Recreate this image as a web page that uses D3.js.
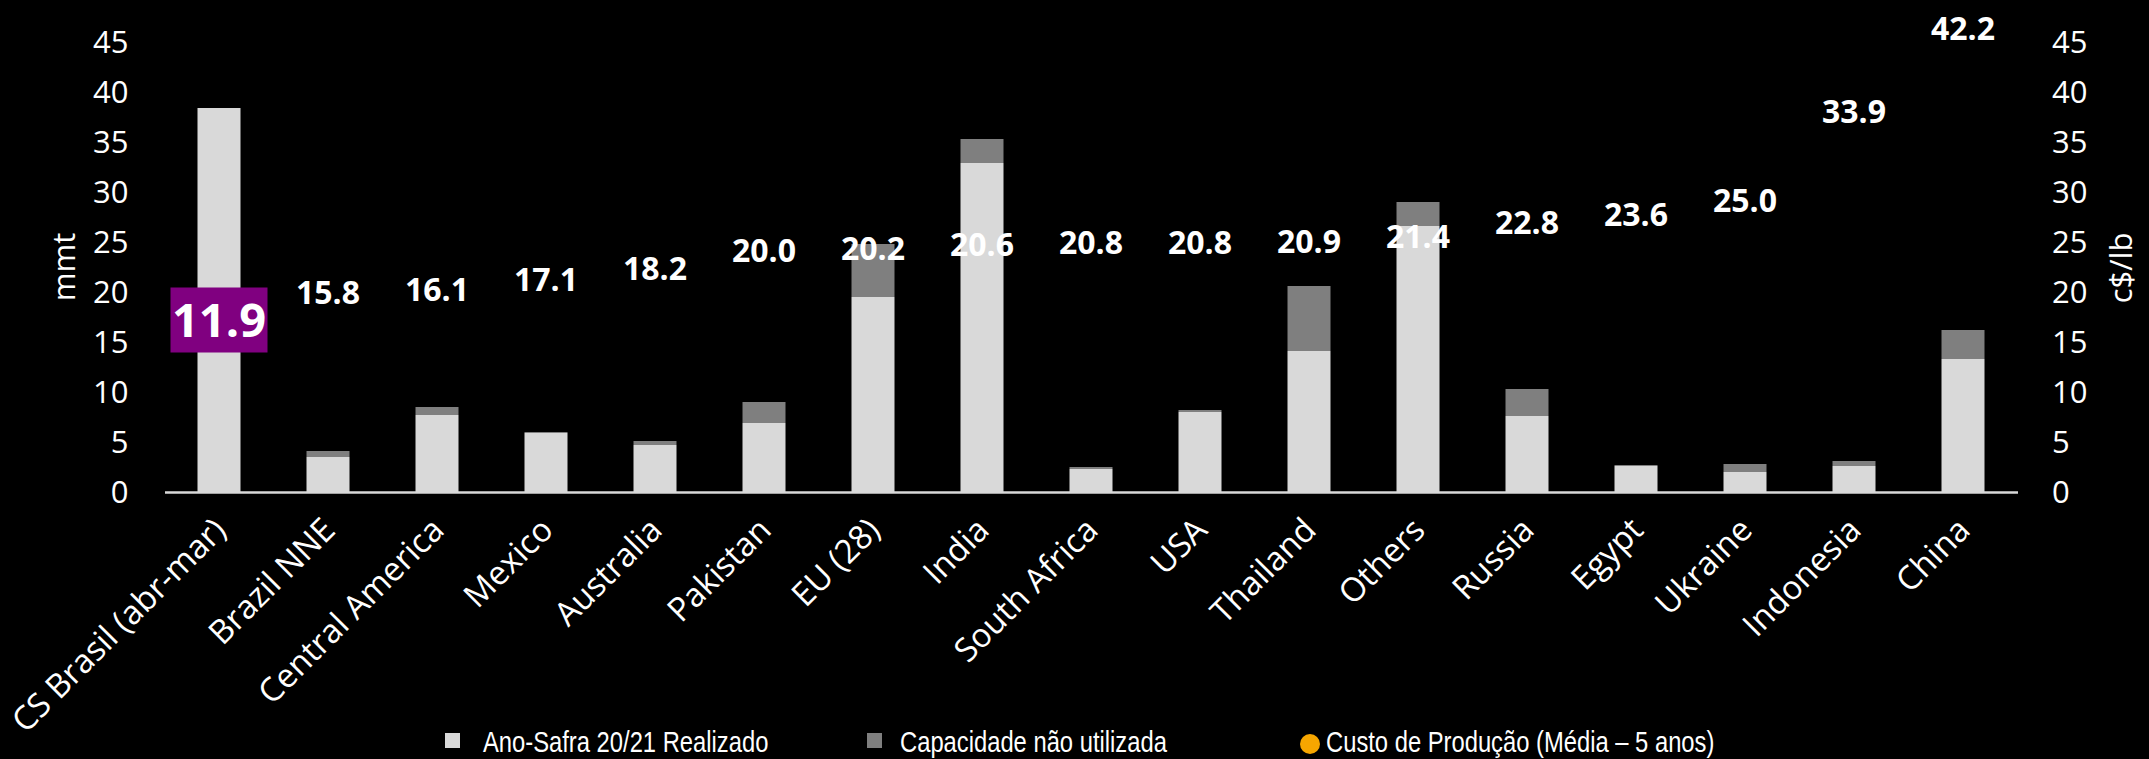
<!DOCTYPE html>
<html>
<head>
<meta charset="utf-8">
<script src="https://cdn.jsdelivr.net/npm/d3@7"></script>
<style>
  html, body { margin: 0; padding: 0; background: #000; }
  svg { display: block; }
</style>
</head>
<body>
<svg id="chart" width="2149" height="759"></svg>
<script>
const categories = ["CS Brasil (abr-mar)", "Brazil NNE", "Central America", "Mexico", "Australia", "Pakistan", "EU (28)", "India", "South Africa", "USA", "Thailand", "Others", "Russia", "Egypt", "Ukraine", "Indonesia", "China"];
const realizado = [38.5, 3.6, 7.8, 6.0, 4.8, 7.0, 19.6, 33.0, 2.4, 8.1, 14.2, 26.7, 7.7, 2.7, 2.1, 2.7, 13.4];
const capacidade = [0.0, 0.6, 0.8, 0.1, 0.4, 2.1, 5.3, 2.4, 0.2, 0.2, 6.5, 2.4, 2.7, 0.1, 0.8, 0.5, 2.9];
const custo = [11.9, 15.8, 16.1, 17.1, 18.2, 20.0, 20.2, 20.6, 20.8, 20.8, 20.9, 21.4, 22.8, 23.6, 25.0, 33.9, 42.2];
const yTicks = [0, 5, 10, 15, 20, 25, 30, 35, 40, 45];
const legendLabels = ["Ano-Safra 20/21 Realizado", "Capacidade não utilizada", "Custo de Produção (Média – 5 anos)"];
const leftTitle = "mmt";
const rightTitle = "c$/lb";

const svg = d3.select("#chart");
svg.append("rect").attr("width", 2149).attr("height", 759).attr("fill", "#000");

const FONT = "'Open Sans', 'Noto Sans', sans-serif";
const LIGHT = "#d9d9d9", DARK = "#7f7f7f", PURPLE = "#800080", ORANGE = "#f7a600";

const x = d3.scaleBand().domain(categories).range([164.5, 2017.5]).paddingInner(0.6055).paddingOuter(0.30275);
const y = d3.scaleLinear().domain([0, 45]).range([493, 43]);
const yR = d3.scaleLinear().domain([0, 45]).range([493, 43]);

// Left axis
const gL = svg.append("g").attr("transform", "translate(164.5,0)")
  .call(d3.axisLeft(y).tickValues(yTicks).tickSize(0).tickPadding(36));
gL.select(".domain").remove();
gL.selectAll("text").attr("fill", "#fff").style("font-family", FONT).style("font-size", "31px");

// Right axis
const gR = svg.append("g").attr("transform", "translate(2017.5,0)")
  .call(d3.axisRight(yR).tickValues(yTicks).tickSize(0).tickPadding(34.5));
gR.select(".domain").remove();
gR.selectAll("text").attr("fill", "#fff").style("font-family", FONT).style("font-size", "31px");

// Axis titles
svg.append("text").text(leftTitle)
  .attr("transform", "translate(63,267) rotate(-90)")
  .attr("text-anchor", "middle").attr("dominant-baseline", "central")
  .attr("fill", "#fff").style("font-family", FONT).style("font-size", "31px");
svg.append("text").text(rightTitle)
  .attr("transform", "translate(2120,268) rotate(-90)")
  .attr("text-anchor", "middle").attr("dominant-baseline", "central")
  .attr("fill", "#fff").style("font-family", FONT).style("font-size", "31px");

// Bars
const bw = x.bandwidth();
const bars = svg.append("g");
categories.forEach((c, i) => {
  const r = realizado[i], k = capacidade[i];
  bars.append("rect").attr("x", x(c)).attr("width", bw)
    .attr("y", y(r)).attr("height", y(0) - y(r)).attr("fill", LIGHT);
  if (k > 0) {
    bars.append("rect").attr("x", x(c)).attr("width", bw)
      .attr("y", y(r + k)).attr("height", y(r) - y(r + k)).attr("fill", DARK);
  }
});

// X axis
const gX = svg.append("g").attr("transform", "translate(0,492)")
  .call(d3.axisBottom(x).tickSize(0).tickSizeOuter(0));
gX.select(".domain").attr("stroke", LIGHT).attr("stroke-width", 2.5);
gX.selectAll("text")
  .attr("x", 0).attr("y", 0).attr("dy", 0)
  .attr("text-anchor", "end")
  .attr("transform", "translate(9,40) rotate(-45)")
  .attr("fill", "#fff").style("font-family", FONT).style("font-size", "33px");

// Cost labels
const labels = svg.append("g");
categories.forEach((c, i) => {
  const cx = x(c) + bw / 2;
  const v = custo[i];
  if (i === 0) {
    const cy = yR(v) - 54;
    labels.append("rect").attr("x", cx - 48.5).attr("y", cy - 32.5)
      .attr("width", 97).attr("height", 65).attr("fill", PURPLE);
    labels.append("text").text(d3.format(".1f")(v))
      .attr("x", cx).attr("y", cy + 17).attr("text-anchor", "middle")
      .attr("fill", "#fff").style("font-family", FONT).style("font-weight", "bold").style("font-size", "47px");
  } else {
    labels.append("text").text(d3.format(".1f")(v))
      .attr("x", cx).attr("y", yR(v) - 31).attr("text-anchor", "middle")
      .attr("fill", "#fff").style("font-family", FONT).style("font-weight", "bold").style("font-size", "32px");
  }
});

// Legend
const NARROW = "'Liberation Sans', Arial, sans-serif";
const lg = svg.append("g");
lg.append("rect").attr("x", 445).attr("y", 733).attr("width", 15).attr("height", 15).attr("fill", LIGHT);
lg.append("rect").attr("x", 867).attr("y", 733).attr("width", 15).attr("height", 15).attr("fill", DARK);
lg.append("circle").attr("cx", 1310).attr("cy", 744).attr("r", 10).attr("fill", ORANGE);
const legX = [483, 900, 1326];
legendLabels.forEach((t, i) => {
  lg.append("text").text(t)
    .attr("transform", `translate(${legX[i]},752) scale(0.82,1)`)
    .attr("fill", "#fff").style("font-family", NARROW).style("font-size", "29px");
});
</script>
</body>
</html>
